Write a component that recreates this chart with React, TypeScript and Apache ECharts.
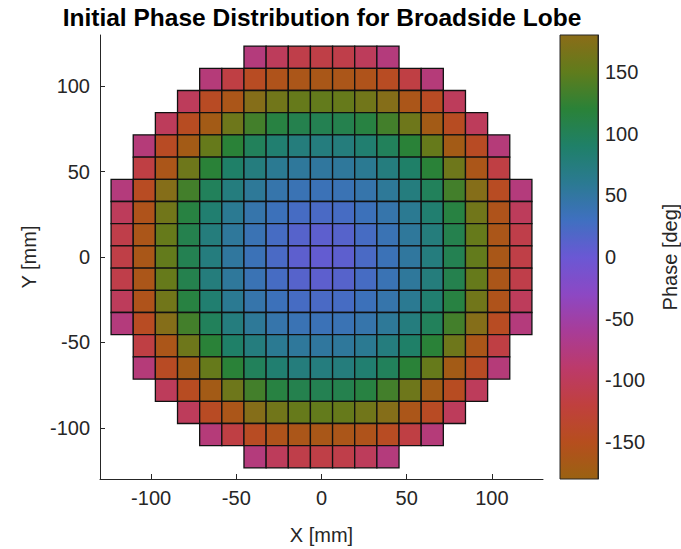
import React, { useEffect, useRef } from "react";
import * as echarts from "echarts";

const FONT = "'Liberation Sans', Arial, Helvetica, sans-serif";
const N = null;

// element centre positions [mm]
const xCenters = [-117, -104, -91, -78, -65, -52, -39, -26, -13, 0, 13, 26, 39, 52, 65, 78, 91, 104, 117];
const yCenters = [117, 104, 91, 78, 65, 52, 39, 26, 13, 0, -13, -26, -39, -52, -65, -78, -91, -104, -117];
const cellSize = 13;

// phase [deg] per element, rows top (y=117) to bottom (y=-117), columns left to right
const phaseRows: (number | null)[][] = [
  [N, N, N, N, N, N, -78, -100, -112, -114, -112, -100, -78, N, N, N, N, N, N],
  [N, N, N, N, -80, -116, -145, -158, -162, -164, -162, -158, -145, -116, -80, N, N, N, N],
  [N, N, N, -100, -144, -162, 176, 162, 154, 152, 154, 162, 176, -162, -144, -100, N, N, N],
  [N, N, -100, -146, -170, 160, 134, 114, 106, 104, 106, 114, 134, 160, -170, -146, -100, N, N],
  [N, -80, -144, -170, 154, 120, 98, 84, 76, 74, 76, 84, 98, 120, 154, -170, -144, -80, N],
  [N, -116, -162, 160, 120, 90, 74, 60, 54, 52, 54, 60, 74, 90, 120, 160, -162, -116, N],
  [-78, -145, 176, 134, 98, 74, 56, 44, 38, 36, 38, 44, 56, 74, 98, 134, 176, -145, -78],
  [-100, -158, 162, 114, 84, 60, 44, 34, 25, 22, 25, 34, 44, 60, 84, 114, 162, -158, -100],
  [-112, -162, 154, 106, 76, 54, 38, 25, 14, 9, 14, 25, 38, 54, 76, 106, 154, -162, -112],
  [-114, -164, 152, 104, 74, 52, 36, 22, 9, 5, 9, 22, 36, 52, 74, 104, 152, -164, -114],
  [-112, -162, 154, 106, 76, 54, 38, 25, 14, 9, 14, 25, 38, 54, 76, 106, 154, -162, -112],
  [-100, -158, 162, 114, 84, 60, 44, 34, 25, 22, 25, 34, 44, 60, 84, 114, 162, -158, -100],
  [-78, -145, 176, 134, 98, 74, 56, 44, 38, 36, 38, 44, 56, 74, 98, 134, 176, -145, -78],
  [N, -116, -162, 160, 120, 90, 74, 60, 54, 52, 54, 60, 74, 90, 120, 160, -162, -116, N],
  [N, -80, -144, -170, 154, 120, 98, 84, 76, 74, 76, 84, 98, 120, 154, -170, -144, -80, N],
  [N, N, -100, -146, -170, 160, 134, 114, 106, 104, 106, 114, 134, 160, -170, -146, -100, N, N],
  [N, N, N, -100, -144, -162, 176, 162, 154, 152, 154, 162, 176, -162, -144, -100, N, N, N],
  [N, N, N, N, -80, -116, -145, -158, -162, -164, -162, -158, -145, -116, -80, N, N, N, N],
  [N, N, N, N, N, N, -78, -100, -112, -114, -112, -100, -78, N, N, N, N, N, N],
];

// cyclic colour map, evenly spaced from -180 to 180
const colorStopValues = [-180, -150, -120, -90, -60, -30, 0, 30, 60, 90, 120, 150, 180];
const colorStops = [
  "#9a6212", "#b64e1e", "#c0403e", "#bc3a6a", "#a83c98", "#8c48c4",
  "#6a58d4", "#3f70c0", "#2b7a92", "#1f8068", "#2a8238", "#607c1c", "#8b6c18",
];

const xTicks = [-100, -50, 0, 50, 100];
const yTicks = [-100, -50, 0, 50, 100];
const cbTicks = [-150, -100, -50, 0, 50, 100, 150];

export default function App() {
  const ref = useRef<HTMLDivElement>(null);
  useEffect(() => {
    const chart = echarts.init(ref.current!, undefined, { renderer: "svg" });
    const data: number[][] = [];
    phaseRows.forEach((row, r) =>
      row.forEach((v, c) => {
        if (v !== null) data.push([xCenters[c], yCenters[r], v]);
      })
    );
    const vMin = colorStopValues[0];
    const vMax = colorStopValues[colorStopValues.length - 1];
    const gradStops = colorStops.map((col, i) => ({
      offset: (vMax - colorStopValues[i]) / (vMax - vMin),
      color: col,
    })).reverse();

    const textColor = "#262626";
    const axisLine = { show: true, onZero: false, lineStyle: { color: textColor, width: 1 } };
    const labelStyle = { color: textColor, fontSize: 20, fontFamily: FONT };

    chart.setOption({
      animation: false,
      backgroundColor: "#ffffff",
      graphic: [
        {
          type: "text",
          x: 322,
          y: 5,
          style: {
            text: "Initial Phase Distribution for Broadside Lobe",
            fontSize: 24.5,
            fontWeight: "bold",
            fontFamily: FONT,
            fill: "#000",
            align: "center",
            verticalAlign: "top",
          },
        },
      ],
      grid: [
        { left: 100, top: 35, width: 443, height: 444, outerBoundsMode: "none" },
        { left: 560, top: 35, width: 38, height: 444, outerBoundsMode: "none" },
      ],
      xAxis: [
        {
          type: "value",
          gridIndex: 0,
          min: -130,
          max: 130,
          axisLine,
          axisTick: { show: true, inside: true, length: 5, customValues: xTicks, lineStyle: { color: textColor } },
          axisLabel: { ...labelStyle, margin: 9, customValues: xTicks },
          splitLine: { show: false },
          name: "X [mm]",
          nameLocation: "middle",
          nameGap: 46,
          nameTextStyle: labelStyle,
        },
        { type: "value", gridIndex: 1, min: 0, max: 1, show: false },
      ],
      yAxis: [
        {
          type: "value",
          gridIndex: 0,
          min: -130,
          max: 130,
          axisLine,
          axisTick: { show: true, inside: true, length: 5, customValues: yTicks, lineStyle: { color: textColor } },
          axisLabel: { ...labelStyle, margin: 10, customValues: yTicks },
          splitLine: { show: false },
          name: "Y [mm]",
          nameLocation: "middle",
          nameGap: 60,
          nameRotate: 90,
          nameTextStyle: labelStyle,
        },
        {
          type: "value",
          gridIndex: 1,
          position: "right",
          min: vMin,
          max: vMax,
          axisLine,
          axisTick: { show: true, inside: true, length: 5, customValues: cbTicks, lineStyle: { color: textColor } },
          axisLabel: { ...labelStyle, margin: 7, customValues: cbTicks },
          splitLine: { show: false },
          name: "Phase [deg]",
          nameLocation: "middle",
          nameGap: 62,
          nameRotate: 90,
          nameTextStyle: labelStyle,
        },
      ],
      visualMap: {
        type: "continuous",
        show: false,
        seriesIndex: 0,
        dimension: 2,
        min: vMin,
        max: vMax,
        inRange: { color: colorStops },
      },
      series: [
        {
          type: "custom",
          xAxisIndex: 0,
          yAxisIndex: 0,
          dimensions: ["x", "y", "phase"],
          encode: { x: 0, y: 1 },
          data,
          renderItem: (params: any, api: any) => {
            const c = api.coord([api.value(0), api.value(1)]);
            const s = api.size([cellSize, cellSize]);
            return {
              type: "rect",
              shape: { x: c[0] - s[0] / 2, y: c[1] - s[1] / 2, width: s[0], height: s[1] },
              style: { fill: api.visual("color"), stroke: "#111", lineWidth: 1.3 },
            };
          },
        },
        {
          type: "custom",
          xAxisIndex: 1,
          yAxisIndex: 1,
          data: [[0, vMin, vMax]],
          renderItem: (params: any, api: any) => {
            const p1 = api.coord([0, vMax]);
            const p2 = api.coord([1, vMin]);
            return {
              type: "rect",
              shape: { x: p1[0], y: p1[1], width: p2[0] - p1[0], height: p2[1] - p1[1] },
              style: {
                fill: new echarts.graphic.LinearGradient(0, 0, 0, 1, gradStops),
                stroke: textColor,
                lineWidth: 1,
              },
            };
          },
        },
      ],
    });
    return () => chart.dispose();
  }, []);
  return (
    <div
      ref={ref}
      style={{ position: "fixed", left: 0, top: 0, width: 681, height: 549, background: "#fff" }}
    />
  );
}
